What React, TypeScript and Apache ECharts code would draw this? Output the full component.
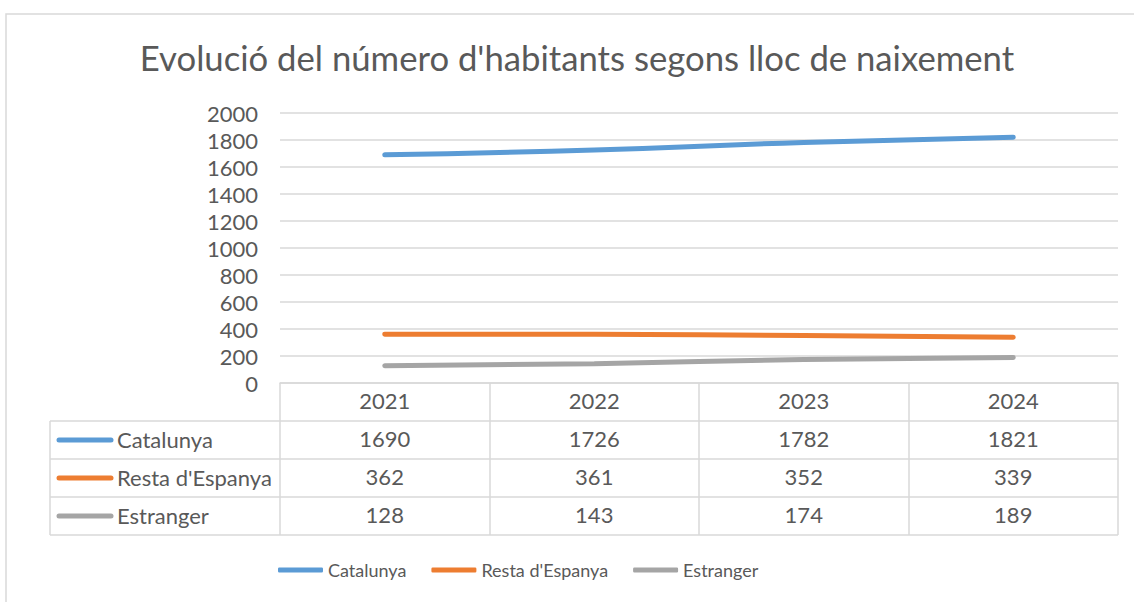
import React, { useEffect, useRef } from "react";
import * as echarts from "echarts";

const TITLE = "Evolució del número d'habitants segons lloc de naixement";
const years = ["2021", "2022", "2023", "2024"];
const seriesNames = ["Catalunya", "Resta d'Espanya", "Estranger"];
const catalunya = [1690, 1726, 1782, 1821];
const restaEspanya = [362, 361, 352, 339];
const estranger = [128, 143, 174, 189];
const colors = ["#5B9BD5", "#ED7D31", "#A5A5A5"];
const yTicks = { min: 0, max: 2000, interval: 200 };

const FONT = "Lato, 'Open Sans', sans-serif";
const TXT = "#595959";
const BORDER = "#d9d9d9";

export default function App() {
  const ref = useRef<HTMLDivElement>(null);
  useEffect(() => {
    if (!ref.current) return;
    const chart = echarts.init(ref.current, undefined, { renderer: "svg" });
    const values = [catalunya, restaEspanya, estranger];

    const gridLeft = 280;
    const gridRight = 1118;
    const axisY = 383;
    const rowH = 38;
    const tableLeft = 50;
    const tableBottom = axisY + rowH * 4;

    const graphic: any[] = [
      {
        type: "rect",
        shape: { x: 6, y: 14, width: 1150, height: 620 },
        style: { fill: "none", stroke: BORDER, lineWidth: 1.5 },
        silent: true,
      },
      {
        type: "text",
        x: 577,
        y: 57,
        style: {
          text: TITLE,
          fontFamily: FONT,
          fontSize: 34.7,
          fill: TXT,
          align: "center",
          verticalAlign: "middle",
        },
      },
      {
        type: "line",
        shape: { x1: tableLeft, y1: axisY + rowH, x2: tableLeft, y2: tableBottom },
        style: { stroke: BORDER, lineWidth: 1.5 },
      },
    ];
    for (let i = 1; i <= 3; i++) {
      graphic.push({
        type: "line",
        shape: { x1: tableLeft, y1: axisY + rowH * i, x2: gridRight, y2: axisY + rowH * i },
        style: { stroke: BORDER, lineWidth: 1.5 },
      });
    }
    graphic.push({
      type: "line",
      shape: { x1: tableLeft, y1: tableBottom, x2: gridRight, y2: tableBottom },
      style: { stroke: BORDER, lineWidth: 1.5 },
    });
    seriesNames.forEach((name, i) => {
      const cy = axisY + rowH * (i + 1) + rowH / 2;
      graphic.push({
        type: "line",
        shape: { x1: 59, y1: cy, x2: 111, y2: cy },
        style: { stroke: colors[i], lineWidth: 5, lineCap: "round" },
      });
      graphic.push({
        type: "text",
        x: 117,
        y: cy - 1,
        style: {
          text: name,
          fontFamily: FONT,
          fontSize: 22,
          fill: TXT,
          verticalAlign: "middle",
        },
      });
    });

    const xAxes: any[] = [
      {
        type: "category",
        data: years,
        boundaryGap: true,
        position: "bottom",
        axisLine: { show: true, lineStyle: { color: BORDER, width: 1.5 } },
        axisTick: { show: true, length: rowH * 4, lineStyle: { color: BORDER, width: 1.5 } },
        axisLabel: { color: TXT, fontFamily: FONT, fontSize: 22, margin: 6 },
      },
    ];
    values.forEach((vals, i) => {
      xAxes.push({
        type: "category",
        data: vals.map(String),
        position: "bottom",
        offset: rowH * (i + 1),
        axisLine: { show: false },
        axisTick: { show: false },
        axisLabel: { color: TXT, fontFamily: FONT, fontSize: 22, margin: 6 },
      });
    });

    chart.setOption({
      animation: false,
      color: colors,
      grid: {
        left: gridLeft,
        right: 1134 - gridRight,
        top: 113,
        bottom: 602 - axisY,
        containLabel: false,
      },
      xAxis: xAxes,
      yAxis: {
        type: "value",
        min: yTicks.min,
        max: yTicks.max,
        interval: yTicks.interval,
        axisLine: { show: false },
        axisTick: { show: false },
        splitLine: { lineStyle: { color: BORDER, width: 1.5 } },
        axisLabel: {
          color: TXT,
          fontFamily: FONT,
          fontSize: 22,
          margin: 22,
          formatter: (v: number) => String(v),
        },
      },
      legend: {
        data: seriesNames,
        left: 278,
        top: 561,
        padding: 0,
        icon: "roundRect",
        itemWidth: 45,
        itemHeight: 5,
        itemGap: 25,
        textStyle: { color: TXT, fontFamily: FONT, fontSize: 18 },
      },
      graphic,
      series: seriesNames.map((name, i) => ({
        name,
        type: "line",
        xAxisIndex: 0,
        data: values[i],
        smooth: true,
        showSymbol: false,
        symbol: "none",
        lineStyle: { width: 5, color: colors[i], cap: "round" },
        itemStyle: { color: colors[i] },
      })),
    });
    return () => chart.dispose();
  }, []);
  return (
    <div
      ref={ref}
      style={{ position: "fixed", left: 0, top: 0, width: 1134, height: 602, background: "#fff" }}
    />
  );
}
